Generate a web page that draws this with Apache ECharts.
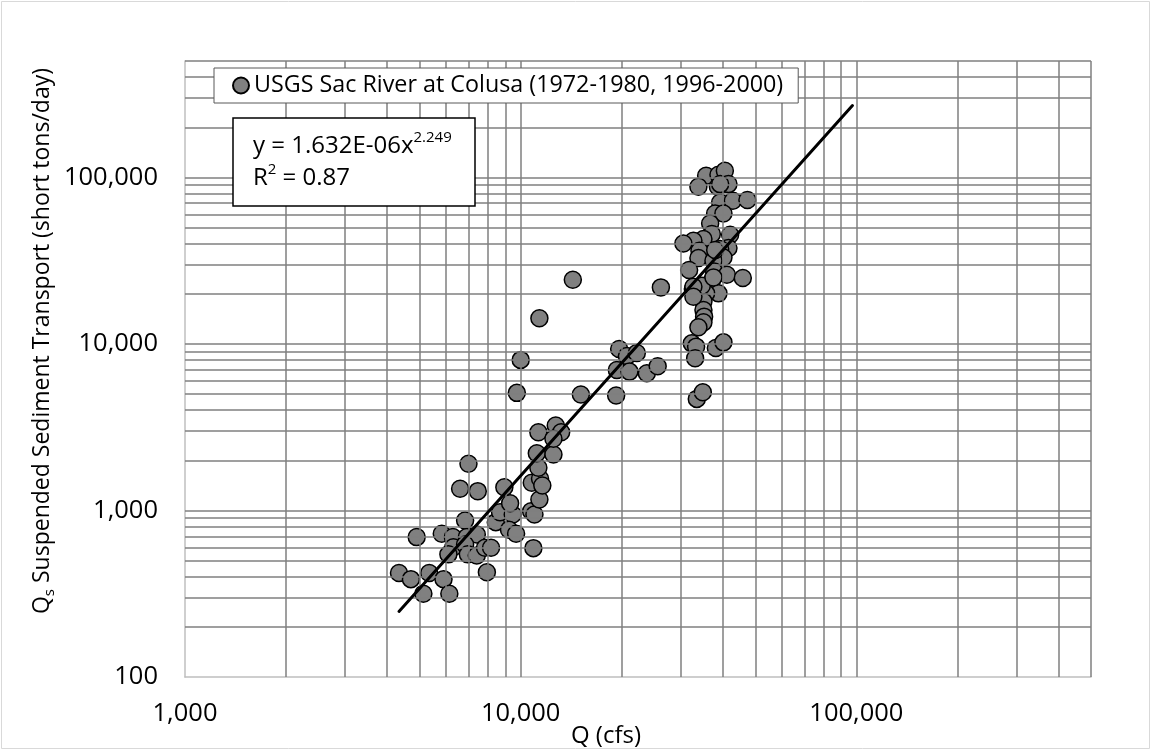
<!DOCTYPE html>
<html><head><meta charset="utf-8">
<script src="https://cdn.jsdelivr.net/npm/echarts@6/dist/echarts.min.js"></script>
<style>html,body{margin:0;padding:0;background:#fff}#c{width:1151px;height:750px}</style>
</head><body><div id="c"></div>
<script>
const seriesName = 'USGS Sac River at Colusa (1972-1980, 1996-2000)';
const flowQ = [
  6990,6600,7450,4900,5820,6280,6830,6910,7400,6300,6090,6830,6960,7400,7830,8160,
  4340,4710,5340,5890,5130,6130,7930,10910,8430,8680,9470,9230,9690,9300,8940,
  10740,10990,11370,10790,11420,11600,11290,11170,12520,12720,11290,13200,12520,
  14300,11370,26160,10000,9740,15110,19250,19650,20720,22180,19340,21090,23760,25590,
  35680,38830,40570,33840,38670,41590,39290,39290,42860,47360,37960,40180,36680,
  42070,37110,35030,32700,30530,34080,41590,39290,33840,40180,37520,31750,37700,
  41130,45890,37110,32570,38830,35680,35030,35030,35190,35030,33840,32340,33310,
  33090,38140,40180,33470,34880,34640,37960,32700,32700,37520
];
const sedimentQs = [
  1906,1350,1306,692,725,692,871,692,718,602,545,625,545,537,597,597,
  421,387,421,387,316,316,426,594,851,977,946,766,725,1106,1380,
  990,946,1164,1466,1550,1413,1804,2207,2167,3235,2949,2949,2693,
  24300,14280,21850,8020,5083,4965,4897,9330,8450,8830,6980,6820,6660,7340,
  102200,103700,109500,87800,87800,91150,91150,70700,72400,73100,60740,60740,52900,
  45260,45700,42650,41660,40140,36290,37660,37150,32800,33070,31600,27790,27260,
  26050,24880,23970,21380,20120,20120,18010,15990,14580,13480,12580,10080,9630,
  8200,9460,10220,4678,5125,22370,36640,22070,19220,25090
];
const xGridValues = [2000,3000,4000,5000,6000,7000,8000,9000,10000,20000,30000,40000,50000,60000,70000,80000,90000,100000,200000,300000,400000,500000];
const yGridValues = [200,300,400,500,600,700,800,900,1000,2000,3000,4000,5000,6000,7000,8000,9000,10000,20000,30000,40000,50000,60000,70000,80000,90000,100000,200000,300000,400000,500000];
const trendCoef = 1.632e-6;
const trendExp = 2.249;
const trendQ = [4340, 97360];

const FONT = 'Open Sans';
const points = flowQ.map((q, i) => [q, sedimentQs[i]]);
const trendPts = trendQ.map(q => [q, trendCoef * Math.pow(q, trendExp)]);
const gridStyle = { color: '#7f7f7f', width: 1.5, type: 'solid' };
const fmt = v => {
  const l = Math.log10(v);
  return Math.abs(l - Math.round(l)) < 1e-6 ? Math.round(v).toLocaleString('en-US') : '';
};

const chart = echarts.init(document.getElementById('c'), null, { renderer: 'canvas' });
chart.setOption({
  animation: false,
  backgroundColor: '#fff',
  textStyle: { fontFamily: FONT },
  grid: { left: 185, right: 60, top: 61, bottom: 73, containLabel: false, outerBoundsMode: 'none' },
  graphic: [{
    type: 'rect', silent: true, z: -10,
    shape: { x: 1.5, y: 1.5, width: 1148, height: 747 },
    style: { fill: 'none', stroke: '#d9d9d9', lineWidth: 1 }
  }],
  title: {
    left: 233, top: 118, z: 10,
    backgroundColor: '#fff', borderColor: '#000', borderWidth: 1.5,
    padding: [12, 24, 12, 20],
    text: '{n|y = 1.632E-06x}{sup|2.249}\n{n|R}{sup|2}{n| = 0.87}',
    textStyle: {
      fontFamily: FONT, fontWeight: 'normal', color: '#000', fontSize: 24, lineHeight: 32,
      rich: {
        n: { fontFamily: FONT, fontSize: 24, color: '#000', lineHeight: 32 },
        sup: { fontFamily: FONT, fontSize: 15, color: '#000', verticalAlign: 'top', lineHeight: 32, padding: [0, 0, 12, 0] }
      }
    }
  },
  legend: {
    left: 214, top: 68, z: 10,
    backgroundColor: '#fff', borderColor: '#595959', borderWidth: 1,
    padding: [6, 15, 6, 18],
    itemWidth: 16, itemHeight: 16, itemGap: 0,
    textStyle: { fontFamily: FONT, fontSize: 23.3, color: '#000' },
    data: [{ name: seriesName, icon: 'circle' }]
  },
  xAxis: {
    type: 'log', logBase: 10, min: 1000, max: 500000,
    axisLine: { show: true, onZero: false, lineStyle: { color: '#bfbfbf', width: 1.5 } },
    axisTick: { show: false },
    splitLine: { show: false },
    axisLabel: { fontFamily: FONT, fontSize: 25.5, color: '#000', margin: 24, formatter: fmt, showMaxLabel: false },
    name: 'Q (cfs)', nameLocation: 'middle', nameGap: 47, nameMoveOverlap: false,
    nameTextStyle: { fontFamily: FONT, fontSize: 24, color: '#000', padding: [0, 64, 0, 0] }
  },
  yAxis: {
    type: 'log', logBase: 10, min: 100, max: 500000,
    axisLine: { show: true, onZero: false, lineStyle: { color: '#bfbfbf', width: 1.5 } },
    axisTick: { show: false },
    splitLine: { show: false },
    axisLabel: { fontFamily: FONT, fontSize: 25.5, color: '#000', margin: 27, formatter: fmt, showMaxLabel: false },
    name: '{q|Q}{s|s}{q| Suspended Sediment Transport (short tons/day)}',
    nameLocation: 'middle', nameRotate: 90, nameGap: 128, nameMoveOverlap: false,
    nameTextStyle: {
      fontFamily: FONT, fontSize: 23, color: '#000', padding: [0, 0, 0, 56],
      rich: {
        q: { fontFamily: FONT, fontSize: 23, color: '#000', lineHeight: 30 },
        s: { fontFamily: FONT, fontSize: 15, color: '#000', verticalAlign: 'bottom', lineHeight: 30, padding: [10, 0, 0, 0] }
      }
    }
  },
  series: [
    {
      name: 'grid', type: 'line', data: [], silent: true, z: 1, symbol: 'none',
      markLine: {
        silent: true, symbol: 'none', animation: false, label: { show: false },
        lineStyle: gridStyle, emphasis: { disabled: true },
        data: xGridValues.map(v => ({ xAxis: v })).concat(yGridValues.map(v => ({ yAxis: v })))
      }
    },
    {
      name: seriesName, type: 'scatter', data: points, z: 3,
      symbol: 'circle', symbolSize: 17,
      itemStyle: { color: '#808080', borderColor: '#000', borderWidth: 1.5, opacity: 1 }
    },
    {
      name: 'trend', type: 'line', data: trendPts, z: 5, symbol: 'none', silent: true,
      lineStyle: { color: '#000', width: 3, cap: 'round' }
    }
  ]
});
</script>
</body></html>
